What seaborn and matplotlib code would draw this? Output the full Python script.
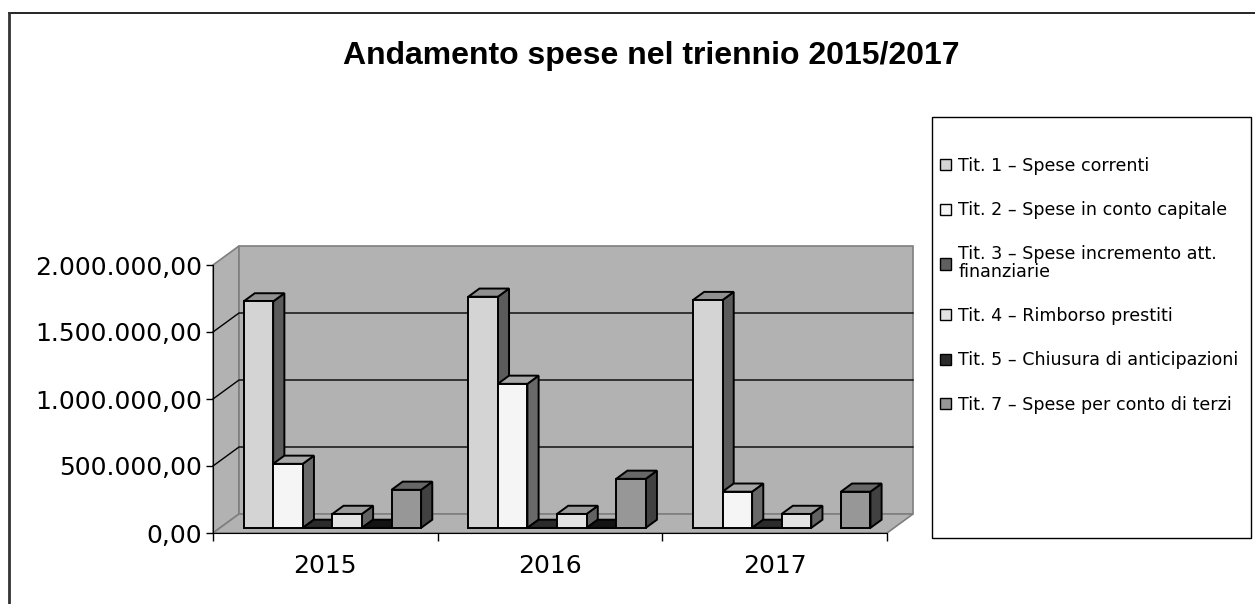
import numpy as np
import pandas as pd
import matplotlib
matplotlib.use("Agg")
import matplotlib.pyplot as plt
import seaborn as sns
from matplotlib.patches import Polygon, Rectangle, Patch
from matplotlib.lines import Line2D

# ----------------------------------------------------------------------------------------------
# Data
# ----------------------------------------------------------------------------------------------
anni = ["2015", "2016", "2017"]
voci = [
    "Tit. 1 – Spese correnti",
    "Tit. 2 – Spese in conto capitale",
    "Tit. 3 – Spese incremento att.\nfinanziarie",
    "Tit. 4 – Rimborso prestiti",
    "Tit. 5 – Chiusura di anticipazioni",
    "Tit. 7 – Spese per conto di terzi",
]
tit1 = [1690000, 1725000, 1700000]
tit2 = [478000, 1075000, 270000]
tit3 = [0, 0, 0]
tit4 = [104000, 104000, 104000]
tit5 = [0, 0, np.nan]
tit7 = [284000, 366000, 270000]
colori = ["#d4d4d4", "#f5f5f5", "#5f5f5f", "#e3e3e3", "#2b2b2b", "#979797"]

y_ticks = [0, 500000, 1000000, 1500000, 2000000]
y_labels = ["0,00", "500.000,00", "1.000.000,00", "1.500.000,00", "2.000.000,00"]

df = pd.DataFrame({
    "anno": anni * 6,
    "voce": np.repeat(voci, 3),
    "valore": tit1 + tit2 + tit3 + tit4 + tit5 + tit7,
})

# ----------------------------------------------------------------------------------------------
# Figure / axes (axes = front plane of the 3D box)
# ----------------------------------------------------------------------------------------------
W, H = 1255, 604
fig = plt.figure(figsize=(W / 100, H / 100), dpi=100)
ax = fig.add_axes([213 / W, (H - 533) / H, 674 / W, 268 / H])
ax.set_facecolor("none")

sns.barplot(data=df, x="anno", y="valore", hue="voce", hue_order=voci, order=anni,
            palette=colori, saturation=1, width=0.79, edgecolor="black",
            linewidth=1.4, errorbar=None, legend=False, ax=ax)
bars = sorted(ax.patches, key=lambda p: p.get_x())

xmin, xmax = -0.5, len(anni) - 0.5
ymax = y_ticks[-1]
ax.set_xlim(xmin, xmax)
ax.set_ylim(0, ymax)

# pixel -> data units
ux = (xmax - xmin) / 674
uy = ymax / 268
DX, DY = 26 * ux, 19 * uy          # depth of the wall box
f0, f1 = 0.27, 0.70                # bar front / back depth fraction

wall = "#b2b2b2"
wall_edge = "#7f7f7f"
# left wall, back wall, floor
ax.add_patch(Polygon([(xmin, 0), (xmin, ymax), (xmin + DX, ymax + DY), (xmin + DX, DY)],
                     closed=True, fc=wall, ec=wall_edge, lw=1.2, clip_on=False, zorder=0))
ax.add_patch(Polygon([(xmin + DX, DY), (xmin + DX, ymax + DY), (xmax + DX, ymax + DY), (xmax + DX, DY)],
                     closed=True, fc=wall, ec=wall_edge, lw=1.2, clip_on=False, zorder=0))
ax.add_patch(Polygon([(xmin, 0), (xmax, 0), (xmax + DX, DY), (xmin + DX, DY)],
                     closed=True, fc=wall, ec=wall_edge, lw=1.2, clip_on=False, zorder=0.1))
for t in y_ticks[1:-1]:
    ax.plot([xmin, xmin + DX, xmax + DX], [t, t + DY, t + DY], color="black", lw=1,
            clip_on=False, zorder=0.2)


def scuro(c, k):
    r, g, b, a = matplotlib.colors.to_rgba(c)
    return (r * k, g * k, b * k, 1)


# 3D look: move bars back and add top / side faces
dd_x, dd_y = (f1 - f0) * DX, (f1 - f0) * DY
for i, p in enumerate(bars):
    x0 = p.get_x() + f0 * DX
    y0 = f0 * DY
    w, h = p.get_width(), p.get_height()
    c = p.get_facecolor()
    p.set_x(x0)
    p.set_y(y0)
    p.set_clip_on(False)
    z = 1 + i * 0.01
    p.set_zorder(z + 0.003)
    k_top = 0.68 if h > 0 else 0.45
    side = Polygon([(x0 + w, y0), (x0 + w, y0 + h), (x0 + w + dd_x, y0 + h + dd_y), (x0 + w + dd_x, y0 + dd_y)],
                   closed=True, fc=scuro(c, 0.43), ec="black", lw=1.4, clip_on=False, zorder=z + 0.001)
    top = Polygon([(x0, y0 + h), (x0 + w, y0 + h), (x0 + w + dd_x, y0 + h + dd_y), (x0 + dd_x, y0 + h + dd_y)],
                  closed=True, fc=scuro(c, k_top), ec="black", lw=1.4, clip_on=False, zorder=z + 0.002)
    ax.add_patch(side)
    ax.add_patch(top)

# axes styling
for s in ["top", "right"]:
    ax.spines[s].set_visible(False)
ax.spines["left"].set_zorder(5)
ax.spines["bottom"].set_zorder(5)
ax.set_yticks(y_ticks)
ax.set_yticklabels(y_labels, family="DejaVu Sans", fontsize=18)
ax.tick_params(axis="y", length=5, width=1, pad=3)
ax.set_xticks(range(len(anni)))
ax.set_xticklabels(anni, family="DejaVu Sans", fontsize=18)
ax.set_xticks(np.arange(xmin, xmax + 0.1, 1), minor=True)
ax.tick_params(axis="x", which="major", length=0, pad=15)
ax.tick_params(axis="x", which="minor", length=6, width=1)
ax.set_xlabel("")
ax.set_ylabel("")

# title
fig.text(651 / W, 1 - 56 / H, "Andamento spese nel triennio 2015/2017", ha="center", va="center",
         fontsize=23, fontweight="bold", family="Liberation Sans")

# legend
handles = [Patch(fc=c, ec="black", lw=1) for c in colori]
leg = fig.legend(handles, voci, loc="upper left", bbox_to_anchor=(940 / W, 1 - 157 / H),
                 bbox_transform=fig.transFigure, frameon=False,
                 prop={"family": "DejaVu Sans", "size": 12.6}, labelspacing=1.5,
                 handlelength=0.6, handleheight=0.6, handletextpad=0.45, borderpad=0, borderaxespad=0)
for txt in leg.get_texts():
    txt.set_linespacing(0.95)
fig.add_artist(Rectangle((932 / W, (H - 538) / H), 319 / W, 421 / H, transform=fig.transFigure,
                         fill=False, ec="black", lw=1))

# outer chart border (top and left visible)
fig.add_artist(Line2D([8.5 / W, 1], [1 - 12.5 / H, 1 - 12.5 / H], transform=fig.transFigure,
                      color="black", lw=1.2))
fig.add_artist(Line2D([8.5 / W, 8.5 / W], [0, 1 - 12.5 / H], transform=fig.transFigure,
                      color="#333333", lw=2))

plt.savefig("out.png", dpi=100)
plt.close()
